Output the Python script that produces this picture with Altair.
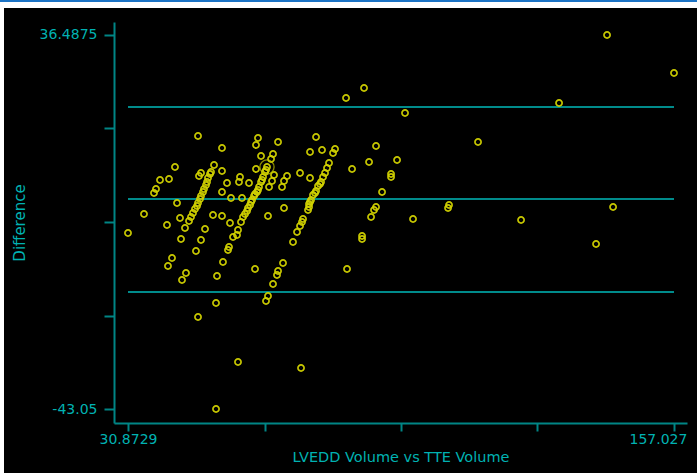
import altair as alt
import pandas as pd

# Bland-Altman style comparison: mean of the two volumes vs. their difference
mean_volume = [
    141.56, 157.027, 81.25, 85.41, 130.47, 94.88, 111.75, 47.05, 52.59, 60.91,
    60.45, 65.54, 74.32, 72.93, 75.70, 78.71, 78.25, 88.18, 41.73, 50.75,
    61.61, 64.38, 63.92, 62.99, 60.45, 77.32, 76.86, 82.64, 86.57, 93.04,
    91.65, 91.65, 89.57, 38.27, 40.35, 37.34, 36.88, 50.05, 52.59, 47.74,
    47.28, 53.75, 52.59, 56.75, 56.52, 58.83, 64.61, 64.15, 67.62, 66.92,
    66.46, 63.46, 70.62, 72.93, 54.67, 57.21, 42.20, 34.57, 30.8729, 39.88,
    42.89, 44.04, 43.12, 50.51, 52.59, 54.44, 48.67, 47.74, 46.58, 55.14,
    53.98, 54.21, 52.82, 44.27, 43.35, 51.44, 41.04, 40.11, 63.22, 66.92,
    69.00, 60.22, 66.69, 65.54, 65.30, 64.38, 63.22, 62.76, 81.48, 51.21,
    47.05, 56.29, 70.85, 51.21, 88.18, 87.72, 87.03, 84.95, 84.95, 96.73,
    105.05, 104.82, 121.69, 142.95, 139.02,
    49.82, 49.36, 49.13, 48.90, 48.43, 48.20, 47.74, 47.51, 47.05, 46.82,
    46.35, 45.89, 45.43, 44.97,
    62.76, 62.53, 62.07, 61.84, 61.61, 61.14, 60.91, 60.68, 60.22, 59.99,
    59.53, 59.30, 59.07, 58.60, 58.37, 57.91, 57.45, 56.98, 56.29, 56.06,
    76.40, 75.94, 75.47, 75.24, 74.78, 74.32, 74.09, 73.62, 73.16, 72.93,
    72.70, 72.70, 72.47, 71.31, 71.08, 70.62, 69.93,
]
difference = [
    36.4875, 28.41, 23.09, 25.22, 22.03, 19.90, 13.73, 15.01, 12.46, 14.58,
    13.09, 13.73, 14.80, 11.61, 12.03, 12.25, 11.39, 12.88, 8.42, 8.84,
    10.76, 11.18, 10.12, 8.42, 7.99, 9.27, 8.20, 7.99, 9.48, 9.91,
    6.93, 6.29, 3.10, 5.65, 5.86, 3.74, 2.89, 7.35, 7.57, 7.14,
    6.50, 5.01, 3.10, 6.29, 5.23, 5.01, 6.72, 5.44, 6.50, 5.44,
    4.16, 4.16, 7.14, 6.08, 1.82, 1.82, 0.76, -1.58, -5.62, -3.92,
    -2.43, -4.55, -6.90, -1.79, -2.00, -3.49, -4.77, -7.11, -9.45, -6.47,
    -9.23, -8.60, -11.79, -14.12, -15.61, -14.76, -10.94, -12.64, -2.00, -0.30,
    -7.53, -13.27, -12.00, -13.70, -14.55, -16.46, -19.02, -20.08, -13.27, -20.51,
    -23.48, -33.05, -34.33, -43.05, -0.09, -0.73, -2.22, -6.26, -6.90, -2.64,
    0.33, -0.30, -2.85, -0.09, -7.96,
    6.93, 6.08, 5.23, 4.59, 3.74, 3.10, 2.25, 1.61, 0.76, 0.12,
    -0.52, -1.37, -2.22, -3.07,
    7.78, 7.35, 6.29, 5.65, 5.23, 4.16, 3.53, 3.10, 2.67, 2.25,
    1.40, 0.97, 0.33, -0.30, -0.94, -1.58, -2.22, -3.28, -4.98, -6.04,
    7.14, 6.29, 5.23, 4.80, 4.38, 3.31, 2.89, 2.46, 1.40, 0.97,
    0.55, -0.09, -0.73, -2.64, -3.28, -4.13, -5.41,
]

# Point circled by the plotting program
ringed_mean = [62.99]
ringed_diff = [8.42]

# Mean difference and limits of agreement
agreement_lines = [21.18, 1.61, -18.17]

x_ticks = [30.8729, 62.4114, 93.9500, 125.4885, 157.027]
x_tick_labels = ["30.8729", "", "", "", "157.027"]
y_ticks = [36.4875, 16.6031, -3.2813, -23.1656, -43.05]
y_tick_labels = ["36.4875", "", "", "", "-43.05"]

x_title = "LVEDD Volume vs TTE Volume"
y_title = "Difference"

points = pd.DataFrame({"mean": mean_volume, "diff": difference})
ringed = pd.DataFrame({"mean": ringed_mean, "diff": ringed_diff})
lines = pd.DataFrame({
    "y": agreement_lines,
    "x0": [min(mean_volume)] * len(agreement_lines),
    "x1": [max(mean_volume)] * len(agreement_lines),
})


def label_expr(values, labels):
    expr = "''"
    for v, lab in zip(values, labels):
        if lab:
            expr = f"abs(datum.value - ({v})) < 0.001 ? '{lab}' : " + expr
    return expr


AXIS_TEAL = "#008585"
TEXT_CYAN = "#00b2b2"
FONT = "DejaVu Sans"

x_scale = alt.Scale(domain=[27.638, 160.031], nice=False, zero=False)
y_scale = alt.Scale(domain=[-46.027, 39.252], nice=False, zero=False)

x_axis = alt.Axis(
    values=x_ticks, labelExpr=label_expr(x_ticks, x_tick_labels),
    grid=False, domainColor=AXIS_TEAL, domainWidth=2, tickColor=AXIS_TEAL,
    tickWidth=2, tickSize=8, labelColor=TEXT_CYAN, labelFont=FONT,
    labelFontSize=14, labelPadding=1, labelBound=False, labelFlush=False,
    labelOffset={"condition": {"test": "datum.value > 150", "value": -16}, "value": 0},
    title=x_title, titleColor=TEXT_CYAN, titleFont=FONT, titleFontSize=14.5,
    titleFontWeight="normal", titlePadding=4, zindex=1,
)
y_axis = alt.Axis(
    values=y_ticks, labelExpr=label_expr(y_ticks, y_tick_labels),
    grid=False, domainColor=AXIS_TEAL, domainWidth=2, tickColor=AXIS_TEAL,
    tickWidth=2, tickSize=10, labelColor=TEXT_CYAN, labelFont=FONT,
    labelFontSize=14, labelPadding=7, labelBound=False, labelFlush=False,
    title=y_title, titleColor=TEXT_CYAN, titleFont=FONT, titleFontSize=15,
    titleFontWeight="normal", titlePadding=12, zindex=1,
)

# Dark panel behind the plot with a thin white margin and a blue top rule
panel = alt.Chart(pd.DataFrame({"k": [0]})).mark_rect(color="black").encode(
    x=alt.value(-110), x2=alt.value(583), y=alt.value(-14), y2=alt.value(451)
)
top_rule = alt.Chart(pd.DataFrame({"k": [0]})).mark_rule(
    color="#1c74c6", strokeWidth=2
).encode(x=alt.value(-114), x2=alt.value(583), y=alt.value(-21))

ref_lines = alt.Chart(lines).mark_rule(color="#008b8b", strokeWidth=2).encode(
    x=alt.X("x0:Q", scale=x_scale, axis=x_axis),
    x2="x1:Q",
    y=alt.Y("y:Q", scale=y_scale, axis=y_axis),
)

dots = alt.Chart(points).mark_point(
    shape="circle", filled=False, color="#d2d200", size=38, strokeWidth=1.7,
    opacity=0.95,
).encode(
    x=alt.X("mean:Q", scale=x_scale, axis=x_axis),
    y=alt.Y("diff:Q", scale=y_scale, axis=y_axis),
)

ring = alt.Chart(ringed).mark_point(
    shape="circle", filled=False, color="#c8c800", size=200, strokeWidth=1.3
).encode(
    x=alt.X("mean:Q", scale=x_scale, axis=x_axis),
    y=alt.Y("diff:Q", scale=y_scale, axis=y_axis),
)

chart = alt.layer(panel, top_rule, ref_lines, dots, ring).properties(
    width=573, height=401,
    autosize=alt.AutoSizeParams(type="none"),
    padding={"left": 114, "top": 22, "right": 10, "bottom": 50},
    background="white",
).configure_view(stroke=None)

chart.save("out.html", embed_options={"renderer": "svg", "actions": False})
